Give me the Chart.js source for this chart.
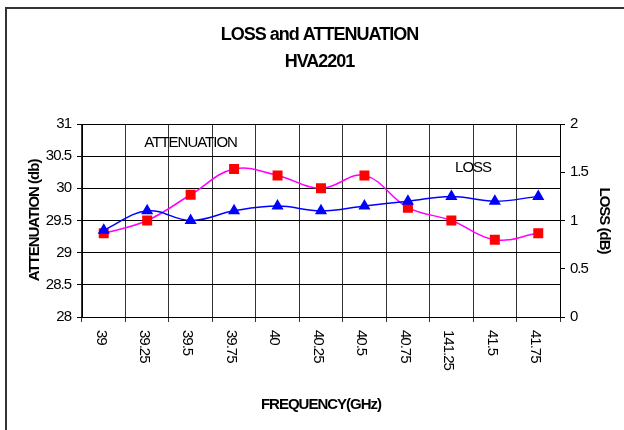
<!DOCTYPE html>
<html>
<head>
<meta charset="utf-8">
<title>LOSS and ATTENUATION</title>
<script src="https://cdn.jsdelivr.net/npm/chart.js@4.4.1/dist/chart.umd.min.js"></script>
<style>
    html, body { margin: 0; padding: 0; background: #fff; }
    canvas { display: block; }
</style>
</head>
<body>
<canvas id="lossChart" width="624" height="430"></canvas>
<script>
// Values
const frequencies = ['39', '39.25', '39.5', '39.75', '40', '40.25', '40.5', '40.75', '141.25', '41.5', '41.75'];
const attenuation = [29.3, 29.5, 29.9, 30.3, 30.2, 30.0, 30.2, 29.7, 29.5, 29.2, 29.3];
const loss = [0.9, 1.1, 1.0, 1.1, 1.15, 1.1, 1.15, 1.2, 1.25, 1.2, 1.25];
const attenuationTicks = [28, 28.5, 29, 29.5, 30, 30.5, 31];
const lossTicks = [0, 0.5, 1, 1.5, 2];

(function() {
    'use strict';

    const FONT = '"Liberation Sans", Arial, Helvetica, sans-serif';
    Chart.defaults.font.family = FONT;
    Chart.defaults.font.size = 15;
    Chart.defaults.color = '#000';

    // Plain number labels, like the sheet ("31", "30.5", "2")
    const plainTick = (value) => String(value);

    /**
     * White page, tight lettering and the outer frame
     */
    const framePlugin = {
        id: 'frame',
        beforeDraw(chart) {
            const ctx = chart.ctx;
            ctx.letterSpacing = '-1px';
            ctx.save();
            ctx.fillStyle = '#fff';
            ctx.fillRect(0, 0, chart.width, chart.height);
            ctx.strokeStyle = '#333';
            ctx.lineWidth = 2;
            ctx.strokeRect(6, 8, chart.width + 20, chart.height + 20);
            ctx.restore();
        }
    };

    /**
     * Frequency labels turned to read downwards, plus the series captions
     */
    const labelPlugin = {
        id: 'labels',
        afterDraw(chart) {
            const { ctx, chartArea, scales } = chart;
            ctx.save();
            ctx.font = '15px ' + FONT;
            ctx.fillStyle = '#000';

            ctx.textAlign = 'left';
            ctx.textBaseline = 'middle';
            frequencies.forEach((label, i) => {
                ctx.save();
                ctx.translate(scales.x.getPixelForTick(i) - 3, chartArea.bottom + 13);
                ctx.rotate(Math.PI / 2);
                ctx.fillText(label, 0, 0);
                ctx.restore();
            });

            ctx.textAlign = 'center';
            ctx.fillText('ATTENUATION', scales.x.getPixelForValue(2), scales.y.getPixelForValue(30.7));
            ctx.fillText('LOSS', scales.x.getPixelForValue(8.5), scales.y1.getPixelForValue(1.55));
            ctx.restore();
        }
    };

    const ctx = document.getElementById('lossChart').getContext('2d');

    new Chart(ctx, {
        type: 'line',
        data: {
            labels: frequencies,
            datasets: [
                {
                    label: 'LOSS',
                    data: loss,
                    yAxisID: 'y1',
                    borderColor: '#0000FF',
                    borderWidth: 1.5,
                    pointStyle: 'triangle',
                    pointRadius: 5.5,
                    pointBackgroundColor: '#0000FF',
                    pointBorderColor: '#0000FF',
                    tension: 0.4,
                    fill: false
                },
                {
                    label: 'ATTENUATION',
                    data: attenuation,
                    yAxisID: 'y',
                    borderColor: '#FF00FF',
                    borderWidth: 1.5,
                    pointStyle: 'rect',
                    pointRadius: 6,
                    pointBackgroundColor: '#FF0000',
                    pointBorderColor: '#FF0000',
                    tension: 0.4,
                    fill: false
                }
            ]
        },
        options: {
            responsive: false,
            animation: false,
            layout: {
                padding: { top: 8, left: 20, right: 5, bottom: 10 }
            },
            plugins: {
                legend: { display: false },
                tooltip: { enabled: false },
                title: {
                    display: true,
                    text: ['LOSS and ATTENUATION', 'HVA2201'],
                    color: '#000',
                    font: { size: 18, weight: 'bold', lineHeight: 1.5 },
                    padding: { top: 14, bottom: 48 }
                }
            },
            scales: {
                x: {
                    offset: true,
                    grid: { offset: true, color: '#333', lineWidth: 1, tickLength: 5 },
                    border: { color: '#000' },
                    ticks: { display: false },
                    title: {
                        display: true,
                        text: 'FREQUENCY(GHz)',
                        font: { size: 15, weight: 'bold' },
                        padding: { top: 4, bottom: 6 }
                    },
                    afterFit: (scale) => { scale.height = 103; }
                },
                y: {
                    position: 'left',
                    min: attenuationTicks[0],
                    max: attenuationTicks[attenuationTicks.length - 1],
                    ticks: {
                        stepSize: attenuationTicks[1] - attenuationTicks[0],
                        padding: 6,
                        callback: plainTick
                    },
                    grid: { color: '#000', lineWidth: 1, tickLength: 5 },
                    border: { color: '#000' },
                    title: {
                        display: true,
                        text: 'ATTENUATION (db)',
                        font: { size: 15, weight: 'bold' },
                        padding: { top: 6, bottom: 0 }
                    },
                    afterFit: (scale) => { scale.width = 62; }
                },
                y1: {
                    position: 'right',
                    min: lossTicks[0],
                    max: lossTicks[lossTicks.length - 1],
                    ticks: {
                        stepSize: lossTicks[1] - lossTicks[0],
                        padding: 5,
                        callback: plainTick
                    },
                    grid: { drawOnChartArea: false, color: '#000', tickLength: 5 },
                    border: { color: '#000' },
                    title: {
                        display: true,
                        text: 'LOSS (dB)',
                        font: { size: 15, weight: 'bold' },
                        padding: { top: 6, bottom: 0 }
                    },
                    afterFit: (scale) => { scale.width = 59; }
                }
            }
        },
        plugins: [framePlugin, labelPlugin]
    });
})();
</script>
</body>
</html>
